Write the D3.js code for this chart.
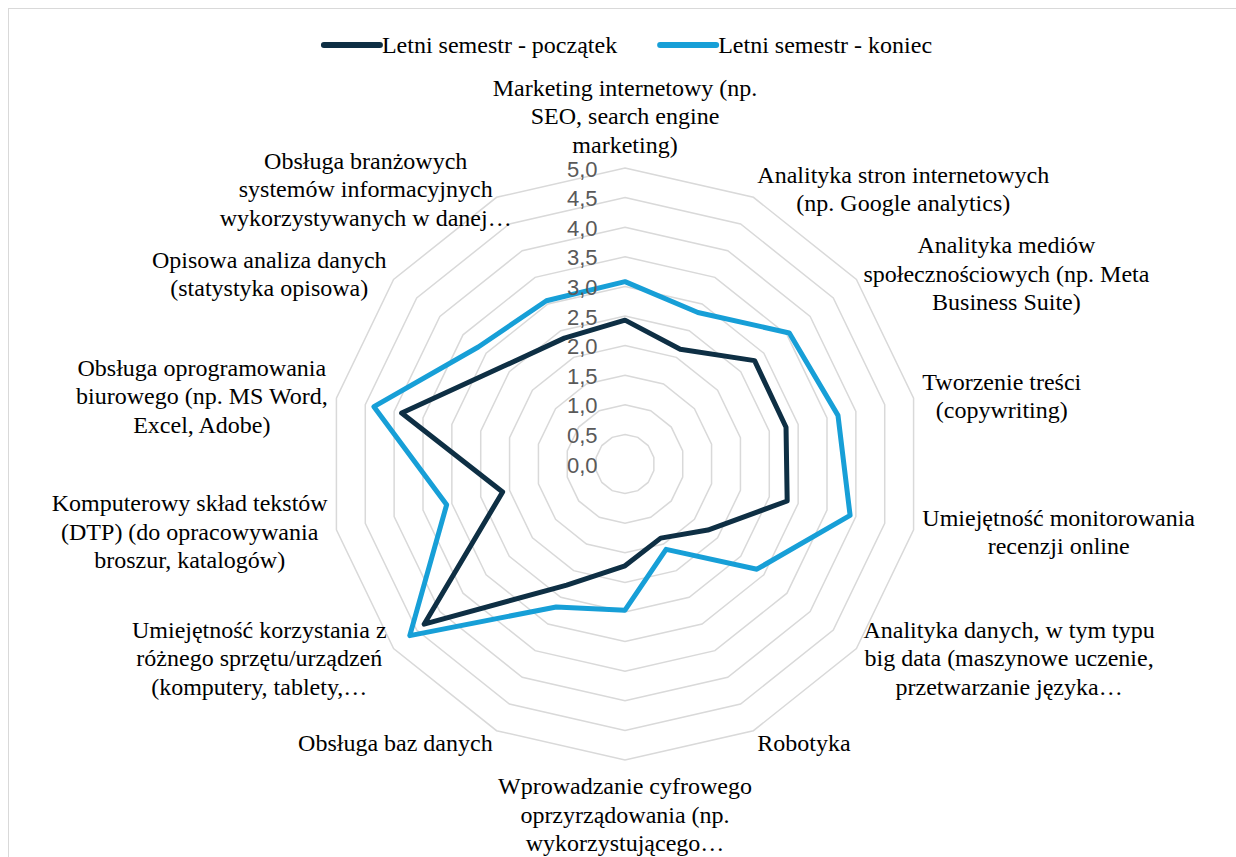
<!DOCTYPE html>
<html>
<head>
<meta charset="utf-8">
<script src="https://cdn.jsdelivr.net/npm/d3@7"></script>
<style>
  html, body { margin: 0; padding: 0; background: #ffffff; }
  svg { display: block; }
</style>
</head>
<body>
<svg id="chart" width="1236" height="857"></svg>
<script>
// ---- data ----
const categories = [
  ["Marketing internetowy (np.", "SEO, search engine", "marketing)"],
  ["Analityka stron internetowych", "(np. Google analytics)"],
  ["Analityka mediów", "społecznościowych (np. Meta", "Business Suite)"],
  ["Tworzenie treści", "(copywriting)"],
  ["Umiejętność monitorowania", "recenzji online"],
  ["Analityka danych, w tym typu", "big data (maszynowe uczenie,", "przetwarzanie języka…"],
  ["Robotyka"],
  ["Wprowadzanie cyfrowego", "oprzyrządowania (np.", "wykorzystującego…"],
  ["Obsługa baz danych"],
  ["Umiejętność korzystania z", "różnego sprzętu/urządzeń", "(komputery, tablety,…"],
  ["Komputerowy skład tekstów", "(DTP) (do opracowywania", "broszur, katalogów)"],
  ["Obsługa oprogramowania", "biurowego (np. MS Word,", "Excel, Adobe)"],
  ["Opisowa analiza danych", "(statystyka opisowa)"],
  ["Obsługa branżowych", "systemów informacyjnych", "wykorzystywanych w danej…"]
];
const seriesNames = ["Letni semestr - początek", "Letni semestr - koniec"];
const startValues = [2.43, 2.15, 2.80, 2.79, 2.81, 1.79, 1.39, 1.72, 2.27, 4.34, 2.12, 3.87, 2.64, 2.36];
const endValues   = [3.08, 2.84, 3.55, 3.69, 3.90, 2.85, 1.60, 2.47, 2.68, 4.65, 3.09, 4.35, 3.17, 3.06];
const tickValues = [0, 0.5, 1, 1.5, 2, 2.5, 3, 3.5, 4, 4.5, 5];
const seriesColors = ["#0e2f44", "#179fd7"];

// ---- layout ----
const svg = d3.select("#chart");
const cx = 625, cy = 464, R = 296;
const n = categories.length;
const rScale = d3.scaleLinear().domain([0, 5]).range([0, R]);
const aScale = d3.scaleLinear().domain([0, n]).range([0, 2 * Math.PI]);
const idx = d3.range(n);

// border
svg.append("rect").attr("x", 8.5).attr("y", 8.5).attr("width", 1300).attr("height", 900)
  .attr("fill", "none").attr("stroke", "#d9d9d9").attr("stroke-width", 1);

const g = svg.append("g").attr("transform", `translate(${cx},${cy})`);

// grid rings
const ringLine = d3.lineRadial()
  .angle(i => aScale(i))
  .curve(d3.curveLinearClosed);
g.selectAll("path.ring").data(tickValues.filter(t => t > 0)).join("path")
  .attr("class", "ring")
  .attr("d", t => ringLine.radius(() => rScale(t))(idx))
  .attr("fill", "none").attr("stroke", "#d9d9d9").attr("stroke-width", 1.5);

// series
const seriesLine = d3.lineRadial()
  .angle((d, i) => aScale(i))
  .radius(d => rScale(d))
  .curve(d3.curveLinearClosed);
[startValues, endValues].forEach((vals, k) => {
  g.append("path").attr("d", seriesLine(vals))
    .attr("fill", "none").attr("stroke", seriesColors[k])
    .attr("stroke-width", 5).attr("stroke-linejoin", "round");
});

// tick labels
const fmt = v => d3.format(".1f")(v).replace(".", ",");
g.selectAll("text.tick").data(tickValues).join("text")
  .attr("class", "tick")
  .attr("x", -27.5)
  .attr("y", t => -rScale(t) + 8.5)
  .attr("text-anchor", "end")
  .attr("font-family", "'Liberation Sans', Arial, sans-serif")
  .attr("font-size", 22)
  .attr("fill", "#595959")
  .text(fmt);

// category labels
const fontSize = 24, lh = 28.5, gap = 9;
categories.forEach((lines, i) => {
  const th = aScale(i);
  const s = Math.sin(th), c = Math.cos(th);
  const px = (R + gap) * s, py = -(R + gap) * c;
  const t = g.append("text")
    .attr("font-family", "'Liberation Serif', 'Times New Roman', serif")
    .attr("font-size", fontSize).attr("fill", "#000")
    .attr("text-anchor", "middle");
  const spans = lines.map(l => t.append("tspan").text(l));
  // box width ignores truncated (ellipsis) lines when others exist
  const widths = spans.map(sp => sp.node().getComputedTextLength());
  const full = widths.filter((w, j) => !lines[j].endsWith("…"));
  const bw = d3.max(full.length ? full : widths);
  const h = lines.length * lh;
  let bx, by;
  if (Math.abs(s) < 0.01) bx = px;
  else if (s > 0) bx = px + bw / 2;
  else bx = px - bw / 2;
  if (Math.abs(s) < 0.01 && c > 0) by = py - h / 2;
  else if (Math.abs(s) < 0.01 && c < 0) by = py + h / 2 + 3;
  else by = py + (c < -0.5 ? 4 : 0);
  spans.forEach((sp, j) => {
    sp.attr("x", bx).attr("y", by - h / 2 + lh * (j + 0.5) + 8);
  });
});

// legend
const legend = svg.append("g");
const legendItems = seriesNames.map((name, k) => {
  const it = legend.append("g");
  it.append("line").attr("x1", 0).attr("x2", 56).attr("y1", 0).attr("y2", 0)
    .attr("stroke", seriesColors[k]).attr("stroke-width", 6).attr("stroke-linecap", "round");
  const tx = it.append("text").attr("x", 58).attr("y", 8)
    .attr("font-family", "'Liberation Serif', 'Times New Roman', serif")
    .attr("font-size", fontSize).attr("fill", "#000").text(name);
  return { it, w: 58 + tx.node().getComputedTextLength() };
});
const legGap = 43;
const totalW = d3.sum(legendItems, d => d.w) + legGap * (legendItems.length - 1);
let lx = 628 - totalW / 2;
legendItems.forEach(d => {
  d.it.attr("transform", `translate(${lx},45)`);
  lx += d.w + legGap;
});
</script>
</body>
</html>
